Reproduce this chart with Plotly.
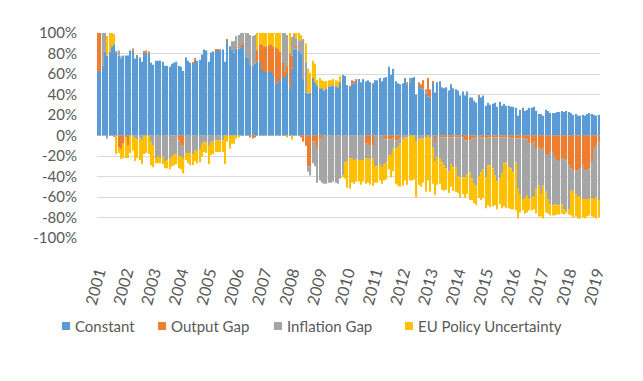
import plotly.graph_objects as go

years = [str(y) for y in range(2001, 2020)]
months = [f"{y}-{m:02d}" for y in range(2001, 2020) for m in range(1, 13)][:218]

constant = [
    62,63,68,82,78,82,87,89,81,78,75,78,
    78,78,83,83,75,77,76,72,81,81,80,71,
    69,73,73,73,72,68,68,67,70,71,72,68,
    67,63,76,73,71,70,74,73,74,79,84,83,
    72,81,82,83,83,84,84,72,93,87,84,81,
    85,85,86,89,77,76,69,68,70,72,72,64,
    62,62,62,62,59,51,52,54,58,56,60,47,
    65,84,85,83,80,55,42,41,42,56,52,49,
    46,46,44,46,48,48,49,48,47,52,59,58,
    49,47,51,51,53,55,52,55,53,54,52,51,
    54,54,56,53,56,57,67,59,65,53,51,50,
    51,56,50,52,56,57,40,49,46,45,41,38,
    37,52,42,52,53,47,46,47,44,50,46,45,
    44,39,43,39,43,37,37,34,32,38,37,39,
    29,32,30,31,32,28,33,29,31,29,29,28,
    28,27,19,25,27,24,25,27,27,28,24,21,
    21,19,25,24,22,22,22,23,23,24,23,24,
    23,22,20,21,19,19,20,19,21,22,21,20,
    19,20,
]
output_gap = [
    38,37,0,0,0,0,0,0,0,-12,-13,-8,
    -2,-10,0,2,0,1,0,0,1,2,2,0,
    0,0,0,0,0,0,0,0,0,0,-2,-5,
    -10,-10,0,0,0,1,1,0,0,0,0,0,
    0,0,0,1,1,0,0,0,1,0,0,0,
    2,0,3,1,0,0,-2,-3,-2,12,17,25,
    25,25,26,27,28,35,33,28,14,6,8,33,
    13,0,3,0,-2,-6,-10,-30,-30,-6,-6,-12,
    -4,-1,0,0,0,0,0,0,0,0,0,0,
    0,1,3,2,2,0,0,0,-8,-8,-10,-10,
    0,0,0,0,-3,-4,-4,-4,-3,-5,-5,-3,
    0,0,2,0,0,0,0,3,4,9,-2,18,
    8,1,-7,0,-2,-2,-2,-2,-2,-2,-2,-2,
    -2,-2,-1,-5,-5,-5,-3,-3,-2,1,-2,-3,
    -3,-2,-2,-2,-2,-2,-2,-2,-2,-2,-2,-3,
    -3,-3,-3,-3,-3,-3,-4,-8,-8,-6,-13,-12,
    -14,-12,-18,-19,-16,-16,-21,-24,-25,-22,-22,-24,
    -29,-32,-34,-35,-34,-32,-29,-34,-34,-32,-25,-13,
    -10,-6,
]
inflation_gap = [
    0,0,32,18,-3,0,0,-1,1,5,2,0,
    0,0,0,0,-3,-4,-3,-5,0,0,0,-6,
    -10,-22,-20,-22,-20,-25,-24,-22,-20,-18,-16,-15,
    -10,-12,-17,-17,-17,-18,-15,-15,-14,-8,-6,-7,
    -10,-7,-6,-5,-5,-5,-5,0,0,0,8,11,
    10,13,11,10,23,24,29,29,28,0,0,0,
    0,0,0,0,0,0,0,0,28,38,30,0,
    18,14,7,10,13,39,30,-5,-9,-21,-24,-34,
    -40,-45,-47,-47,-46,-46,-45,-46,-47,-42,-39,-26,
    -25,-22,-22,-24,-23,-24,-24,-24,-14,-14,-13,-12,
    -30,-30,-28,-31,-25,-22,-15,-15,-10,-8,-6,-5,
    -4,-2,-2,4,0,0,-6,-4,-3,-3,4,0,
    -3,-12,-18,-21,-20,-24,-27,-30,-33,-26,-29,-29,
    -38,-39,-40,-36,-33,-31,-39,-44,-47,-40,-34,-30,
    -38,-27,-27,-30,-37,-43,-40,-35,-25,-24,-29,-29,
    -33,-23,-49,-55,-59,-58,-54,-54,-52,-53,-39,-37,
    -43,-37,-37,-43,-51,-52,-46,-44,-43,-45,-50,-50,
    -43,-22,-20,-22,-25,-28,-33,-28,-28,-30,-36,-49,
    -50,-57,
]
eu_policy_uncertainty = [
    0,0,0,0,19,18,13,10,-18,-5,-10,-14,
    -20,-12,-17,-15,-22,-18,-21,-23,-18,-17,-18,-23,
    -21,-5,-7,-5,-8,-7,-8,-11,-10,-11,-10,-12,
    -13,-15,-7,-10,-12,-11,-10,-12,-12,-13,-10,-10,
    -18,-12,-12,-11,-11,-11,-11,-28,-6,-13,-8,-8,
    -3,-2,0,0,0,0,0,0,0,16,11,11,
    13,13,12,11,13,14,15,18,0,0,-2,20,
    -4,2,5,7,5,0,18,24,19,17,18,5,
    10,8,9,7,6,6,6,6,6,6,-2,-16,
    -26,-30,-24,-23,-22,-21,-24,-21,-25,-24,-25,-27,
    -16,-16,-16,-16,-16,-17,-14,-22,-22,-34,-38,-42,
    -45,-42,-46,-44,-44,-43,-54,-44,-47,-43,-53,-44,
    -52,-35,-33,-27,-25,-27,-25,-21,-21,-22,-23,-24,
    -16,-20,-16,-20,-19,-27,-21,-19,-19,-21,-27,-28,
    -30,-39,-41,-37,-29,-27,-25,-34,-42,-45,-40,-40,
    -36,-47,-29,-17,-11,-15,-17,-11,-13,-13,-24,-30,
    -22,-32,-20,-14,-11,-10,-11,-9,-9,-9,-5,-2,
    -5,-24,-26,-22,-22,-21,-18,-19,-17,-16,-18,-18,
    -21,-17,
]

y_ticks = [-100, -80, -60, -40, -20, 0, 20, 40, 60, 80, 100]
y_tick_labels = ["-100%", "-80%", "-60%", "-40%", "-20%", "0%", "20%", "40%", "60%", "80%", "100%"]
year_ticks = [f"{y}-01" for y in years]

series_names = ["Constant", "Output Gap", "Inflation Gap", "EU Policy Uncertainty"]
series_values = [constant, output_gap, inflation_gap, eu_policy_uncertainty]
series_colors = ["#5B9BD5", "#ED7D31", "#A5A5A5", "#FFC000"]

# the page body adds an 8px offset; size the figure so it fills the 643x381 window
OFF = 8
W, H = 643 - OFF, 381 - OFF
L, R, T, B = 97 - OFF, 43, 33 - OFF, 143
pw, ph = W - L - R, H - T - B

fig = go.Figure()
for name, vals, col in zip(series_names, series_values, series_colors):
    fig.add_trace(go.Bar(x=months, y=vals, name=name,
                         marker=dict(color=col, line=dict(width=0))))

font = "Lato, 'Liberation Sans', sans-serif"

# single-row legend (square + label), positioned in window pixels
legend_x_px = [62, 158, 274, 405]
legend_y_px = 326
shapes, annotations = [], []
for xp, name, col in zip(legend_x_px, series_names, series_colors):
    xp_f = xp - OFF
    yp_f = legend_y_px - OFF
    x0 = (xp_f - L) / pw
    x1 = (xp_f + 8 - L) / pw
    y0 = (T + ph - (yp_f + 4)) / ph
    y1 = (T + ph - (yp_f - 4)) / ph
    shapes.append(dict(type="rect", xref="paper", yref="paper", x0=x0, x1=x1, y0=y0, y1=y1,
                       fillcolor=col, line=dict(width=0)))
    annotations.append(dict(xref="paper", yref="paper", x=(xp_f + 11 - L) / pw,
                            y=(T + ph - yp_f) / ph, text=name, showarrow=False,
                            xanchor="left", yanchor="middle",
                            font=dict(family=font, size=15, color="#595959")))

fig.update_layout(
    width=W, height=H,
    barmode="relative", bargap=0.45,
    paper_bgcolor="white", plot_bgcolor="white",
    margin=dict(l=L, r=R, t=T, b=B, autoexpand=False),
    font=dict(family=font, size=15, color="#595959"),
    showlegend=False,
    shapes=shapes, annotations=annotations,
    xaxis=dict(type="category", categoryorder="array", categoryarray=months,
               tickmode="array", tickvals=year_ticks, ticktext=years,
               tickangle=-75, tickfont=dict(family=font, size=16, color="#595959"),
               showgrid=False, zeroline=False, showline=False, automargin=False,
               ticks="outside", ticklen=18, tickcolor="rgba(0,0,0,0)",
               range=[-0.5, len(months) - 0.5]),
    yaxis=dict(range=[-100, 100], tickmode="array", tickvals=y_ticks, ticktext=y_tick_labels,
               showgrid=True, gridcolor="#D9D9D9", gridwidth=1,
               zeroline=False, showline=False, automargin=False,
               ticks="outside", ticklen=16, tickcolor="rgba(0,0,0,0)",
               tickfont=dict(family=font, size=15, color="#595959")),
)

fig.write_html("out.html")
